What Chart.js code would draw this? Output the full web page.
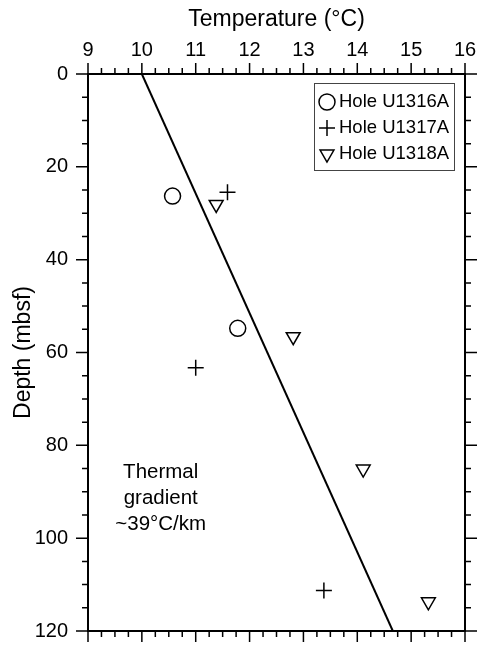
<!DOCTYPE html>
<html>
<head>
<meta charset="utf-8">
<script src="https://cdn.jsdelivr.net/npm/chart.js@4.4.0/dist/chart.umd.min.js"></script>
<style>
  html, body { margin: 0; padding: 0; background: #fff; }
  canvas { display: block; }
</style>
</head>
<body>
<canvas id="chart" width="479" height="653"></canvas>
<script>
// values
const u1316aTemp = [10.57, 11.78];
const u1316aDepth = [26.3, 54.8];
const u1317aTemp = [11.59, 11.0, 13.38];
const u1317aDepth = [25.5, 63.3, 111.3];
const u1318aTemp = [11.38, 12.81, 14.11, 15.32];
const u1318aDepth = [28.1, 56.6, 85.1, 113.7];
const gradientTemp = [10.0, 14.66];
const gradientDepth = [0, 120];

const seriesLabels = ['Hole U1316A', 'Hole U1317A', 'Hole U1318A'];
const tempRange = [9, 16];     // labelled every 1, minor every 0.25
const depthRange = [0, 120];   // labelled every 20, minor every 5
const noteLines = ['Thermal', 'gradient', '~39\u00b0C/km'];
const noteAt = { x: 10.35, y: 91.4 };

const FONT = '"Liberation Sans", Arial, Helvetica, sans-serif';

const toPoints = (xs, ys) => xs.map((v, i) => ({ x: v, y: ys[i] }));

const markerStyles = [
  { pointStyle: 'circle', rotation: 0 },
  { pointStyle: 'cross', rotation: 0 },
  { pointStyle: 'triangle', rotation: 180 },
];

function drawMarker(ctx, style, cx, cy, r) {
  ctx.beginPath();
  if (style.pointStyle === 'circle') {
    ctx.arc(cx, cy, r, 0, Math.PI * 2);
  } else if (style.pointStyle === 'cross') {
    ctx.moveTo(cx - r, cy); ctx.lineTo(cx + r, cy);
    ctx.moveTo(cx, cy - r); ctx.lineTo(cx, cy + r);
  } else {
    // downward triangle, same geometry as chart.js triangle rotated 180
    const s = r * Math.sin(Math.PI / 3), c = r * Math.cos(Math.PI / 3);
    ctx.moveTo(cx, cy + r);
    ctx.lineTo(cx - s, cy - c);
    ctx.lineTo(cx + s, cy - c);
    ctx.closePath();
  }
  ctx.stroke();
}

const frameTicks = {
  id: 'frameTicks',
  afterDatasetsDraw(chart) {
    const { ctx, chartArea: a, scales: { x, y } } = chart;
    ctx.save();
    ctx.strokeStyle = '#000';
    ctx.lineWidth = 1.5;
    ctx.beginPath();
    const nx = (tempRange[1] - tempRange[0]) * 4;
    for (let i = 0; i <= nx; i++) {
      const px = x.getPixelForValue(tempRange[0] + i * 0.25);
      const len = i % 4 === 0 ? 11 : 6;
      ctx.moveTo(px, a.top); ctx.lineTo(px, a.top - len);
      ctx.moveTo(px, a.bottom); ctx.lineTo(px, a.bottom + len);
    }
    const ny = (depthRange[1] - depthRange[0]) / 5;
    for (let i = 0; i <= ny; i++) {
      const py = y.getPixelForValue(depthRange[0] + i * 5);
      const len = i % 4 === 0 ? 12 : 6;
      ctx.moveTo(a.left, py); ctx.lineTo(a.left - len, py);
      ctx.moveTo(a.right, py); ctx.lineTo(a.right + len, py);
    }
    ctx.stroke();
    ctx.lineWidth = 2;
    ctx.strokeRect(a.left, a.top, a.right - a.left, a.bottom - a.top);
    ctx.restore();
  },
  afterDraw(chart) {
    const { ctx, chartArea: a, scales: { x, y } } = chart;
    ctx.save();
    // legend box
    const bx = a.right - 151, by = a.top + 9, bw = 140, bh = 87;
    ctx.fillStyle = '#fff';
    ctx.fillRect(bx, by, bw, bh);
    ctx.strokeStyle = '#444';
    ctx.lineWidth = 1;
    ctx.strokeRect(bx + 0.5, by + 0.5, bw, bh);
    ctx.font = '18.5px ' + FONT;
    ctx.textBaseline = 'middle';
    ctx.textAlign = 'left';
    seriesLabels.forEach((lab, i) => {
      const ry = by + 19 + i * 26;
      ctx.strokeStyle = '#000';
      ctx.lineWidth = 1.5;
      drawMarker(ctx, markerStyles[i], bx + 13, ry, 8);
      ctx.fillStyle = '#000';
      ctx.fillText(lab, bx + 25, ry);
    });
    // gradient note
    ctx.font = '20.5px ' + FONT;
    ctx.textAlign = 'center';
    const cx = x.getPixelForValue(noteAt.x);
    const cy = y.getPixelForValue(noteAt.y);
    noteLines.forEach((t, i) => {
      ctx.fillText(t, cx, cy + (i - 1) * 26);
    });
    ctx.restore();
  }
};

const pointDefaults = {
  pointRadius: 8,
  pointHoverRadius: 8,
  borderColor: '#000',
  backgroundColor: 'rgba(0,0,0,0)',
  pointBorderWidth: 1.5,
  borderWidth: 1.5,
  showLine: false,
};

new Chart(document.getElementById('chart').getContext('2d'), {
  type: 'scatter',
  data: {
    datasets: [
      {
        label: 'gradient',
        data: toPoints(gradientTemp, gradientDepth),
        showLine: true,
        borderColor: '#000',
        borderWidth: 2,
        pointRadius: 0,
        fill: false,
      },
      { ...pointDefaults, label: seriesLabels[0], data: toPoints(u1316aTemp, u1316aDepth), ...markerStyles[0] },
      { ...pointDefaults, label: seriesLabels[1], data: toPoints(u1317aTemp, u1317aDepth), ...markerStyles[1] },
      { ...pointDefaults, label: seriesLabels[2], data: toPoints(u1318aTemp, u1318aDepth), ...markerStyles[2] },
    ],
  },
  options: {
    responsive: false,
    devicePixelRatio: 1,
    animation: false,
    events: [],
    layout: { padding: { left: 0, top: 0, right: 14, bottom: 13 } },
    plugins: { legend: { display: false }, tooltip: { enabled: false } },
    scales: {
      x: {
        type: 'linear',
        position: 'top',
        min: tempRange[0],
        max: tempRange[1],
        ticks: { stepSize: 1, color: '#000', padding: 2, font: { family: FONT, size: 20 } },
        grid: { display: false, drawTicks: true, tickLength: 10 },
        border: { display: false },
        title: {
          display: true,
          text: 'Temperature (\u00b0C)',
          color: '#000',
          font: { family: FONT, size: 23 },
          padding: { top: 6, bottom: 0 },
        },
        afterFit(s) { s.height = 74; },
      },
      y: {
        type: 'linear',
        reverse: true,
        min: depthRange[0],
        max: depthRange[1],
        ticks: { stepSize: 20, color: '#000', padding: 10, font: { family: FONT, size: 20 } },
        grid: { display: false, drawTicks: true, tickLength: 10 },
        border: { display: false },
        title: {
          display: true,
          text: 'Depth (mbsf)',
          color: '#000',
          font: { family: FONT, size: 23 },
          padding: { top: 10, bottom: 0 },
        },
        afterFit(s) { s.width = 88; },
      },
    },
  },
  plugins: [frameTicks],
});
</script>
</body>
</html>
